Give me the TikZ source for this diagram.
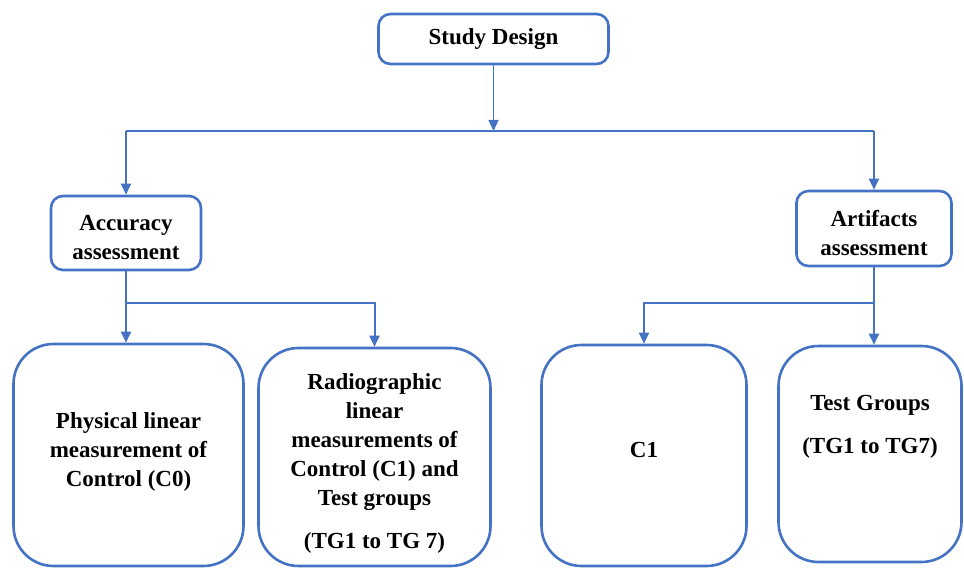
\documentclass[tikz,border=0pt]{standalone}
\usepackage{fontspec}
\setmainfont{Liberation Serif}
\newfontfamily\tnr{Liberation Serif}
\usetikzlibrary{arrows.meta}
\definecolor{boxblue}{HTML}{4472C4}
\tikzset{
  box/.style={draw=boxblue, line width=2.6pt, fill=white, inner sep=0pt},
  smallbox/.style={box, rounded corners=12pt},
  bigbox/.style={box, rounded corners=40pt},
  txt/.style={align=center, font=\tnr\bfseries\fontsize{23}{29}\selectfont, text=black, inner sep=0pt},
  conn/.style={draw=boxblue, line width=2pt},
  arr/.style={conn, -{Triangle[width=10pt,length=11pt]}},
  thinarr/.style={draw=boxblue, line width=1.1pt, -{Triangle[width=10pt,length=11pt]}}
}
\begin{document}
\begin{tikzpicture}[x=1pt, y=-1pt]
\useasboundingbox (0,0) rectangle (964,569);
% boxes
\node[smallbox, minimum width=230pt, minimum height=50pt] (sd) at (493.5,39) {};
\node[smallbox, minimum width=150pt, minimum height=74pt] (acc) at (126,233) {};
\node[smallbox, minimum width=155pt, minimum height=75pt] (art) at (874,228.5) {};
\node[bigbox, minimum width=230pt, minimum height=222pt] (phys) at (128.5,455) {};
\node[bigbox, minimum width=232pt, minimum height=218pt] (rad) at (374.5,457) {};
\node[bigbox, minimum width=205pt, minimum height=221pt] (c1) at (644,455.5) {};
\node[bigbox, minimum width=183pt, minimum height=216pt] (tg) at (870,454) {};
% texts
\node[txt] (sdt) at (493.5,39) {Study Design};
\node[txt] (acct) at (126,238) {Accuracy\\assessment};
\node[txt] (artt) at (874,233) {Artifacts\\assessment};
\node[txt] (physt) at (128.5,452) {Physical linear\\measurement of\\Control (C0)};
\node[txt] (radt) at (374.5,463) {Radiographic\\linear\\measurements of\\Control (C1) and\\Test groups\\[14pt](TG1 to TG 7)};
\node[txt] (c1t) at (644,450) {C1};
\node[txt] (tgt) at (870,427) {Test Groups\\[14pt](TG1 to TG7)};
% junctions
\coordinate (j1) at (493.5,131);
\coordinate (hl) at (acc.north |- j1);
\coordinate (hr) at (art.north |- j1);
\coordinate (j2) at (126,303);
\coordinate (j3) at (874,303);
% connectors
\draw[thinarr] (sd.south) -- (j1);
\draw[conn] (hl) -- (hr);
\draw[arr] (hl) -- (acc.north);
\draw[arr] (hr) -- (art.north);
\draw[arr] (acc.south) -- (acc.south |- phys.north);
\draw[arr] (j2) -| (rad.north);
\draw[arr] (art.south) -- (art.south |- tg.north);
\draw[arr] (j3) -| (c1.north);
\end{tikzpicture}
\end{document}
